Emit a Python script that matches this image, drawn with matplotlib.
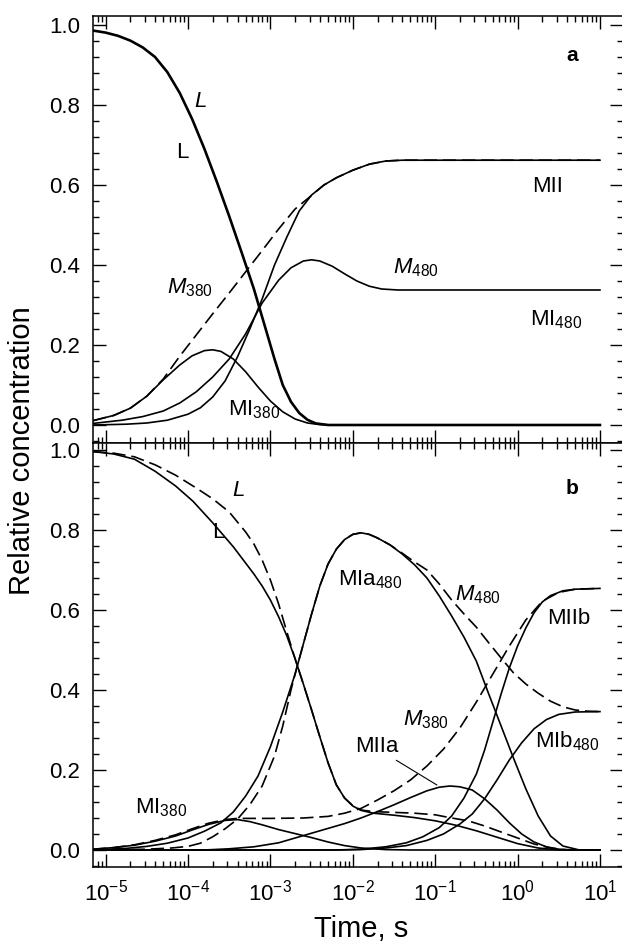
import numpy as np
import matplotlib
matplotlib.use('Agg')
import matplotlib.pyplot as plt
from matplotlib.ticker import FixedLocator, MultipleLocator, AutoMinorLocator, FormatStrFormatter, NullFormatter, LogFormatterSciNotation

plt.rcParams['font.family'] = ['Liberation Sans', 'DejaVu Sans']
plt.rcParams['mathtext.fontset'] = 'custom'
plt.rcParams['mathtext.rm'] = 'Liberation Sans'
plt.rcParams['mathtext.it'] = 'Liberation Sans:italic'
plt.rcParams['mathtext.bf'] = 'Liberation Sans:bold'
plt.rcParams['mathtext.default'] = 'regular'
plt.rcParams['axes.unicode_minus'] = False

# ---- panel a (log10 of time in s, relative concentration) ----
aL_lt = [-5.15, -5.0, -4.85, -4.7, -4.55, -4.4, -4.25, -4.1, -3.95, -3.8, -3.65, -3.5, -3.35, -3.2, -3.05,
         -2.95, -2.85, -2.75, -2.65, -2.55, -2.45, -2.3, 1.0]
aL = [0.986, 0.981, 0.973, 0.961, 0.944, 0.92, 0.882, 0.83, 0.765, 0.69, 0.608, 0.522, 0.432, 0.34, 0.235,
      0.165, 0.10, 0.058, 0.03, 0.013, 0.004, 0.0, 0.0]

aM380_lt = [-5.15, -4.9, -4.7, -4.5, -4.3, -4.1, -3.9, -3.7, -3.5, -3.3, -3.1, -2.9, -2.7, -2.5, -2.35,
            -2.2, -2.0, -1.8, -1.6, -1.4, 1.0]
aM380 = [0.011, 0.024, 0.042, 0.072, 0.115, 0.172, 0.225, 0.278, 0.33, 0.383, 0.436, 0.49, 0.54, 0.574, 0.60,
         0.618, 0.637, 0.652, 0.66, 0.662, 0.662]

aMII_lt = [-5.15, -4.75, -4.5, -4.25, -4.0, -3.85, -3.7, -3.55, -3.4, -3.25, -3.1, -2.95, -2.8, -2.65, -2.5,
           -2.35, -2.2, -2.0, -1.8, -1.6, -1.4, 1.0]
aMII = [0.0, 0.002, 0.005, 0.012, 0.027, 0.043, 0.07, 0.11, 0.17, 0.24, 0.315, 0.40, 0.47, 0.535, 0.575,
        0.60, 0.618, 0.637, 0.652, 0.66, 0.662, 0.662]

aMI480_lt = [-5.15, -4.8, -4.55, -4.3, -4.1, -3.9, -3.7, -3.5, -3.3, -3.1, -2.9, -2.75, -2.6, -2.5, -2.4,
             -2.25, -2.1, -1.95, -1.8, -1.65, -1.45, 1.0]
aMI480 = [0.004, 0.012, 0.021, 0.035, 0.055, 0.083, 0.12, 0.165, 0.228, 0.305, 0.362, 0.393, 0.41, 0.413, 0.41,
          0.397, 0.378, 0.36, 0.347, 0.34, 0.3375, 0.3375]

aMI380_lt = [-5.15, -4.9, -4.7, -4.5, -4.3, -4.1, -3.95, -3.8, -3.7, -3.6, -3.45, -3.3, -3.15, -3.0, -2.85,
             -2.7, -2.55, -2.4, -2.2, 1.0]
aMI380 = [0.011, 0.024, 0.042, 0.072, 0.113, 0.15, 0.173, 0.186, 0.188, 0.184, 0.165, 0.133, 0.095, 0.06, 0.033,
          0.015, 0.005, 0.001, 0.0, 0.0]

# ---- panel b ----
bL_lt = [-5.15, -4.9, -4.65, -4.4, -4.15, -3.94, -3.7, -3.45, -3.2, -3.1, -3.0, -2.9, -2.8, -2.7, -2.6,
         -2.5, -2.4, -2.3, -2.2, -2.1, -2.0, -1.9, -1.75, -1.5, -1.25, -1.0, -0.75, -0.5, -0.25, 0.0,
         0.25, 0.5, 1.0]
bL = [0.996, 0.99, 0.977, 0.947, 0.91, 0.872, 0.818, 0.758, 0.69, 0.66, 0.625, 0.583, 0.535, 0.478, 0.415,
      0.35, 0.283, 0.218, 0.163, 0.13, 0.11, 0.099, 0.092, 0.087, 0.081, 0.073, 0.062, 0.048, 0.032, 0.016,
      0.005, 0.0, 0.0]

bLd_lt = [-5.15, -4.9, -4.65, -4.4, -4.15, -3.9, -3.7, -3.5, -3.4, -3.3, -3.2, -3.1, -3.0, -2.9, -2.8,
          -2.7, -2.6, -2.5, -2.4, -2.3, -2.2, -2.1, -2.0, -1.9, -1.75, -1.5, -1.25, -1.0, -0.8, -0.6,
          -0.4, -0.2, 0.0, 0.2, 0.4, 0.6, 1.0]
bLd = [0.996, 0.992, 0.983, 0.963, 0.937, 0.905, 0.878, 0.845, 0.82, 0.795, 0.765, 0.725, 0.675, 0.615, 0.545,
       0.478, 0.415, 0.35, 0.283, 0.218, 0.163, 0.13, 0.111, 0.1, 0.096, 0.094, 0.092, 0.088, 0.08, 0.073,
       0.06, 0.045, 0.03, 0.015, 0.005, 0.0, 0.0]

bMI380_lt = [-5.15, -4.9, -4.65, -4.4, -4.15, -3.95, -3.75, -3.55, -3.4, -3.25, -3.1, -2.9, -2.7, -2.5, -2.3,
             -2.1, -1.9, -1.6, -1.3, 1.0]
bMI380 = [0.002, 0.006, 0.012, 0.022, 0.035, 0.05, 0.064, 0.074, 0.076, 0.071, 0.063, 0.051, 0.041, 0.031, 0.02,
          0.011, 0.005, 0.001, 0.0, 0.0]

bM380_lt = [-5.15, -4.9, -4.65, -4.4, -4.15, -3.95, -3.75, -3.55, -3.4, -3.0, -2.6, -2.3, -2.1, -1.9, -1.7,
            -1.5, -1.3, -1.1, -0.9, -0.7, -0.5, -0.3, -0.1, 0.1, 0.3, 0.5, 0.7, 1.0]
bM380 = [0.002, 0.006, 0.013, 0.024, 0.038, 0.053, 0.067, 0.076, 0.079, 0.079, 0.08, 0.084, 0.092, 0.104, 0.125,
         0.148, 0.175, 0.21, 0.252, 0.305, 0.37, 0.44, 0.51, 0.575, 0.622, 0.644, 0.652, 0.654]

bMIa480_lt = [-5.15, -4.75, -4.5, -4.25, -4.0, -3.8, -3.6, -3.45, -3.3, -3.15, -3.0, -2.85, -2.7, -2.6, -2.5,
              -2.4, -2.3, -2.2, -2.1, -2.0, -1.9, -1.8, -1.7, -1.55, -1.4, -1.25, -1.1, -0.95, -0.8, -0.65,
              -0.5, -0.35, -0.2, -0.05, 0.1, 0.25, 0.4, 0.55, 0.75, 1.0]
bMIa480 = [0.0, 0.004, 0.009, 0.017, 0.03, 0.047, 0.068, 0.095, 0.135, 0.185, 0.258, 0.345, 0.44, 0.515, 0.59,
           0.66, 0.715, 0.752, 0.776, 0.789, 0.793, 0.789, 0.78, 0.763, 0.74, 0.713, 0.68, 0.635, 0.585, 0.532,
           0.472, 0.39, 0.31, 0.23, 0.153, 0.085, 0.035, 0.01, 0.0, 0.0]

bM480_lt = [-5.15, -4.5, -4.2, -4.0, -3.85, -3.7, -3.55, -3.4, -3.25, -3.1, -2.95, -2.85, -2.75, -2.7, -2.6,
            -2.5, -2.4, -2.3, -2.2, -2.1, -2.0, -1.9, -1.8, -1.7, -1.55, -1.4, -1.25, -1.1, -0.95, -0.8,
            -0.65, -0.5, -0.35, -0.2, -0.05, 0.1, 0.25, 0.4, 0.55, 0.7, 0.85, 1.0]
bM480 = [0.0, 0.002, 0.005, 0.009, 0.017, 0.033, 0.053, 0.077, 0.113, 0.16, 0.235, 0.31, 0.4, 0.44, 0.515,
         0.59, 0.66, 0.715, 0.752, 0.776, 0.789, 0.793, 0.789, 0.78, 0.763, 0.742, 0.72, 0.70, 0.665, 0.625,
         0.59, 0.557, 0.518, 0.48, 0.443, 0.415, 0.392, 0.372, 0.358, 0.35, 0.347, 0.346]

bMIIa_lt = [-5.15, -3.8, -3.5, -3.2, -2.9, -2.6, -2.3, -2.1, -1.9, -1.7, -1.5, -1.3, -1.1, -0.95, -0.82,
            -0.7, -0.55, -0.4, -0.25, -0.1, 0.05, 0.2, 0.35, 0.5, 0.7, 1.0]
bMIIa = [0.0, 0.0, 0.003, 0.008, 0.018, 0.036, 0.054, 0.066, 0.08, 0.096, 0.113, 0.131, 0.148, 0.157, 0.16,
         0.158, 0.15, 0.128, 0.1, 0.068, 0.04, 0.02, 0.008, 0.002, 0.0, 0.0]

bMIIb_lt = [-5.15, -2.2, -1.9, -1.6, -1.35, -1.15, -0.95, -0.8, -0.65, -0.5, -0.4, -0.3, -0.2, -0.1, 0.0,
            0.1, 0.2, 0.3, 0.4, 0.55, 0.7, 1.0]
bMIIb = [0.0, 0.0, 0.002, 0.008, 0.018, 0.033, 0.056, 0.085, 0.13, 0.19, 0.25, 0.32, 0.39, 0.455, 0.51,
         0.555, 0.593, 0.62, 0.636, 0.648, 0.652, 0.654]

bMIb480_lt = [-5.15, -2.2, -1.9, -1.6, -1.35, -1.1, -0.9, -0.7, -0.55, -0.4, -0.25, -0.1, 0.05, 0.2, 0.35,
              0.5, 0.7, 1.0]
bMIb480 = [0.0, 0.0, 0.001, 0.005, 0.011, 0.024, 0.04, 0.065, 0.09, 0.128, 0.175, 0.225, 0.268, 0.303, 0.326,
           0.339, 0.345, 0.346]

# axis range and tick positions
xmin, xmax = 7.03e-6, 19.0
xmajor = [1e-5, 1e-4, 1e-3, 1e-2, 1e-1, 1e0, 1e1]
xminor = [k * 10.0 ** e for e in range(-6, 2) for k in range(2, 10) if xmin <= k * 10.0 ** e <= xmax]


def t(lt):
    return 10 ** np.array(lt)


dash = (0, (8, 3.5))
thin = 1.2

fig = plt.figure(figsize=(6.22, 9.44), dpi=100)
axA = fig.add_axes([0.1495, 0.53072, 0.852, 0.45233])
axB = fig.add_axes([0.1495, 0.08157, 0.852, 0.44915])

# panel a
axA.plot(t(aL_lt), aL, color='black', lw=1.9)
axA.plot(t(aM380_lt), aM380, color='black', lw=thin, ls=dash)
axA.plot(t(aMII_lt), aMII, color='black', lw=thin)
axA.plot(t(aMI480_lt), aMI480, color='black', lw=thin)
axA.plot(t(aMI380_lt), aMI380, color='black', lw=thin)

# panel b
axB.plot(t(bL_lt), bL, color='black', lw=thin)
axB.plot(t(bLd_lt), bLd, color='black', lw=thin, ls=dash)
axB.plot(t(bMI380_lt), bMI380, color='black', lw=thin)
axB.plot(t(bM380_lt), bM380, color='black', lw=thin, ls=dash)
axB.plot(t(bMIa480_lt), bMIa480, color='black', lw=thin)
axB.plot(t(bM480_lt), bM480, color='black', lw=thin, ls=dash)
axB.plot(t(bMIIa_lt), bMIIa, color='black', lw=thin)
axB.plot(t(bMIIb_lt), bMIIb, color='black', lw=thin)
axB.plot(t(bMIb480_lt), bMIb480, color='black', lw=thin)

for ax in (axA, axB):
    ax.set_xscale('log')
    ax.set_xlim(xmin, xmax)
    ax.xaxis.set_major_locator(FixedLocator(xmajor))
    ax.xaxis.set_major_formatter(LogFormatterSciNotation())
    ax.xaxis.set_minor_locator(FixedLocator(xminor))
    ax.xaxis.set_minor_formatter(NullFormatter())
    ax.yaxis.set_major_locator(MultipleLocator(0.2))
    ax.yaxis.set_minor_locator(AutoMinorLocator(5))
    ax.yaxis.set_major_formatter(FormatStrFormatter('%.1f'))
    ax.tick_params(which='both', direction='in', top=True, right=True, width=1.0, labelsize=16)
    ax.tick_params(which='major', length=9.5)
    ax.tick_params(which='minor', length=4.5)
    ax.tick_params(axis='y', pad=9)
    ax.tick_params(axis='x', pad=9)
    for s in ax.spines.values():
        s.set_linewidth(1.1)

axA.set_ylim(-0.045, 1.0225)
axB.set_ylim(-0.0425, 1.0175)
axA.tick_params(labelbottom=False)

lab = dict(fontsize=16, va='center', ha='left')
# panel a labels
axA.text(1.40e-4, 0.81, '$\\mathit{L}$', fontsize=16, ha='center', va='center')
axA.text(8.45e-5, 0.6825, 'L', fontsize=16, ha='center', va='center')
axA.text(5.56e-5, 0.3425, '$\\mathit{M_{380}}$', **lab)
axA.text(3.05e-4, 0.0375, 'MI$_{380}$', **lab)
axA.text(1.50, 0.5975, 'MII', **lab)
axA.text(0.0307, 0.3925, '$\\mathit{M_{480}}$', **lab)
axA.text(1.415, 0.2625, 'MI$_{480}$', **lab)
axA.text(4.57, 0.925, 'a', fontsize=15, fontweight='bold', ha='center', va='center')

# panel b labels
axB.text(4.05e-4, 0.90, '$\\mathit{L}$', fontsize=16, ha='center', va='center')
axB.text(2.31e-4, 0.7925, 'L', fontsize=16, ha='center', va='center')
axB.text(2.28e-5, 0.105, 'MI$_{380}$', **lab)
axB.text(6.6e-3, 0.675, 'MIa$_{480}$', **lab)
axB.text(0.174, 0.6375, '$\\mathit{M_{480}}$', **lab)
axB.text(2.28, 0.5775, 'MIIb', **lab)
axB.text(0.0407, 0.325, '$\\mathit{M_{380}}$', **lab)
axB.text(1.63, 0.2725, 'MIb$_{480}$', **lab)
axB.annotate('MIIa', xy=(0.105, 0.1625), xytext=(0.0106, 0.2575), fontsize=16,
             ha='left', va='center',
             arrowprops=dict(arrowstyle='-', lw=0.8, color='black', shrinkA=0, shrinkB=0,
                             relpos=(0.85, 0.0)))
axB.text(4.57, 0.905, 'b', fontsize=15, fontweight='bold', ha='center', va='center')

fig.text(22 / 622, 1 - 451 / 944, 'Relative concentration', rotation=90,
         ha='center', va='center', fontsize=21)
fig.text(361 / 622, 1 - 937 / 944, 'Time, s', ha='center', va='baseline', fontsize=21)

fig.savefig('out.png', dpi=100)
